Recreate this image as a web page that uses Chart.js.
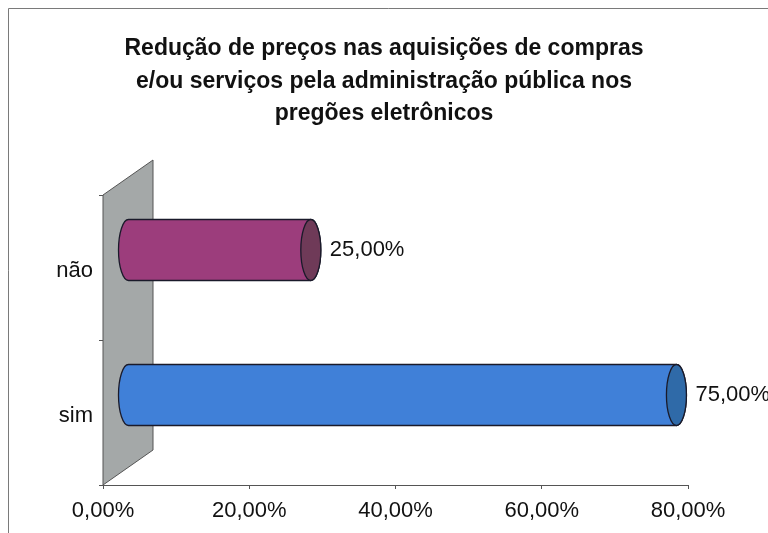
<!DOCTYPE html>
<html><head><meta charset="utf-8">
<script src="https://cdn.jsdelivr.net/npm/chart.js@4.4.1/dist/chart.umd.min.js"></script>
<style>html,body{margin:0;padding:0;background:#fff}#wrap{width:768px;height:533px}</style>
</head><body><div id="wrap"><canvas id="c" width="768" height="533"></canvas></div>
<script>
const titleLines = ["Redução de preços nas aquisições de compras", "e/ou serviços pela administração pública nos", "pregões eletrônicos"];
const categories = ["não", "sim"];
const values = [25, 75];
const bodyColors = ["#9c3d7c", "#4080d8"];
const capColors = ["#6f3a58", "#2f6aa8"];
const xTickMin = 0, xTickMax = 80, xTickStep = 20;

const fmt = v => v.toFixed(2).replace('.', ',') + '%';
const DX = 50, DY = -35;
const FONT = "'Liberation Sans', Arial, sans-serif";

const decor = {
  id: 'decor',
  beforeDraw(chart) {
    const ctx = chart.ctx;
    ctx.save();
    ctx.fillStyle = '#fff';
    ctx.fillRect(0, 0, chart.width, chart.height);
    ctx.strokeStyle = '#7a7a7a';
    ctx.lineWidth = 1;
    ctx.beginPath();
    ctx.moveTo(8.5, chart.height);
    ctx.lineTo(8.5, 8.5);
    ctx.lineTo(chart.width, 8.5);
    ctx.stroke();
    // title
    ctx.fillStyle = '#111';
    ctx.font = 'bold 23px ' + FONT;
    ctx.textAlign = 'center';
    ctx.textBaseline = 'middle';
    titleLines.forEach((t, i) => ctx.fillText(t, chart.width / 2, 49 + i * 32.5));
    ctx.restore();
  },
  beforeDatasetsDraw(chart) {
    const ctx = chart.ctx, a = chart.chartArea;
    ctx.save();
    ctx.beginPath();
    ctx.moveTo(a.left, a.top);
    ctx.lineTo(a.left + DX, a.top + DY);
    ctx.lineTo(a.left + DX, a.bottom + DY);
    ctx.lineTo(a.left, a.bottom);
    ctx.closePath();
    ctx.fillStyle = '#a4a8a8';
    ctx.fill();
    ctx.strokeStyle = '#555';
    ctx.lineWidth = 1;
    ctx.stroke();
    ctx.restore();
  },
  afterDatasetsDraw(chart) {
    const ctx = chart.ctx;
    const meta = chart.getDatasetMeta(0);
    const ox = DX / 2, oy = DY / 2;
    meta.data.forEach((el, i) => {
      const p = el.getProps(['x', 'y', 'base', 'height'], true);
      const x0 = p.base + ox, x1 = p.x + ox, cy = p.y + oy;
      const ry = p.height / 2, rx = 10;
      const top = cy - ry, bot = cy + ry;
      ctx.save();
      ctx.beginPath();
      ctx.moveTo(x0, top);
      ctx.lineTo(x1, top);
      ctx.ellipse(x1, cy, rx, ry, 0, -Math.PI / 2, Math.PI / 2, false);
      ctx.lineTo(x0, bot);
      ctx.ellipse(x0, cy, rx, ry, 0, Math.PI / 2, Math.PI * 1.5, false);
      ctx.closePath();
      ctx.fillStyle = bodyColors[i];
      ctx.fill();
      ctx.strokeStyle = '#1a1a2a';
      ctx.lineWidth = 1.3;
      ctx.stroke();
      ctx.beginPath();
      ctx.ellipse(x1, cy, rx, ry, 0, 0, Math.PI * 2);
      ctx.fillStyle = capColors[i];
      ctx.fill();
      ctx.stroke();
      ctx.fillStyle = '#111';
      ctx.font = '22px ' + FONT;
      ctx.textAlign = 'left';
      ctx.textBaseline = 'middle';
      ctx.fillText(fmt(values[i]), x1 + rx + 9, cy);
      ctx.restore();
    });
  }
};

new Chart(document.getElementById('c'), {
  type: 'bar',
  data: {
    labels: categories,
    datasets: [{
      data: values,
      backgroundColor: 'rgba(0,0,0,0)',
      borderWidth: 0,
      barThickness: 61
    }]
  },
  options: {
    indexAxis: 'y',
    responsive: false,
    animation: false,
    devicePixelRatio: 1,
    layout: { padding: { left: 0, right: 80, top: 195, bottom: 0 } },
    plugins: {
      legend: { display: false },
      tooltip: { enabled: false },
      title: { display: false }
    },
    scales: {
      x: {
        min: xTickMin, max: xTickMax,
        afterFit(s) { s.height = 48; },
        ticks: { stepSize: xTickStep, callback: v => fmt(v), color: '#111', font: { family: FONT, size: 22 }, padding: 9, maxRotation: 0 },
        grid: { drawOnChartArea: false, tickLength: 4, color: '#555' },
        border: { display: true, color: '#555' }
      },
      y: {
        afterFit(s) { s.width = 103; },
        ticks: { color: '#111', font: { family: FONT, size: 22 }, padding: 6, labelOffset: 3 },
        grid: { drawOnChartArea: false, tickLength: 4, color: '#555', offset: true },
        border: { display: false }
      }
    }
  },
  plugins: [decor]
});
</script></body></html>
